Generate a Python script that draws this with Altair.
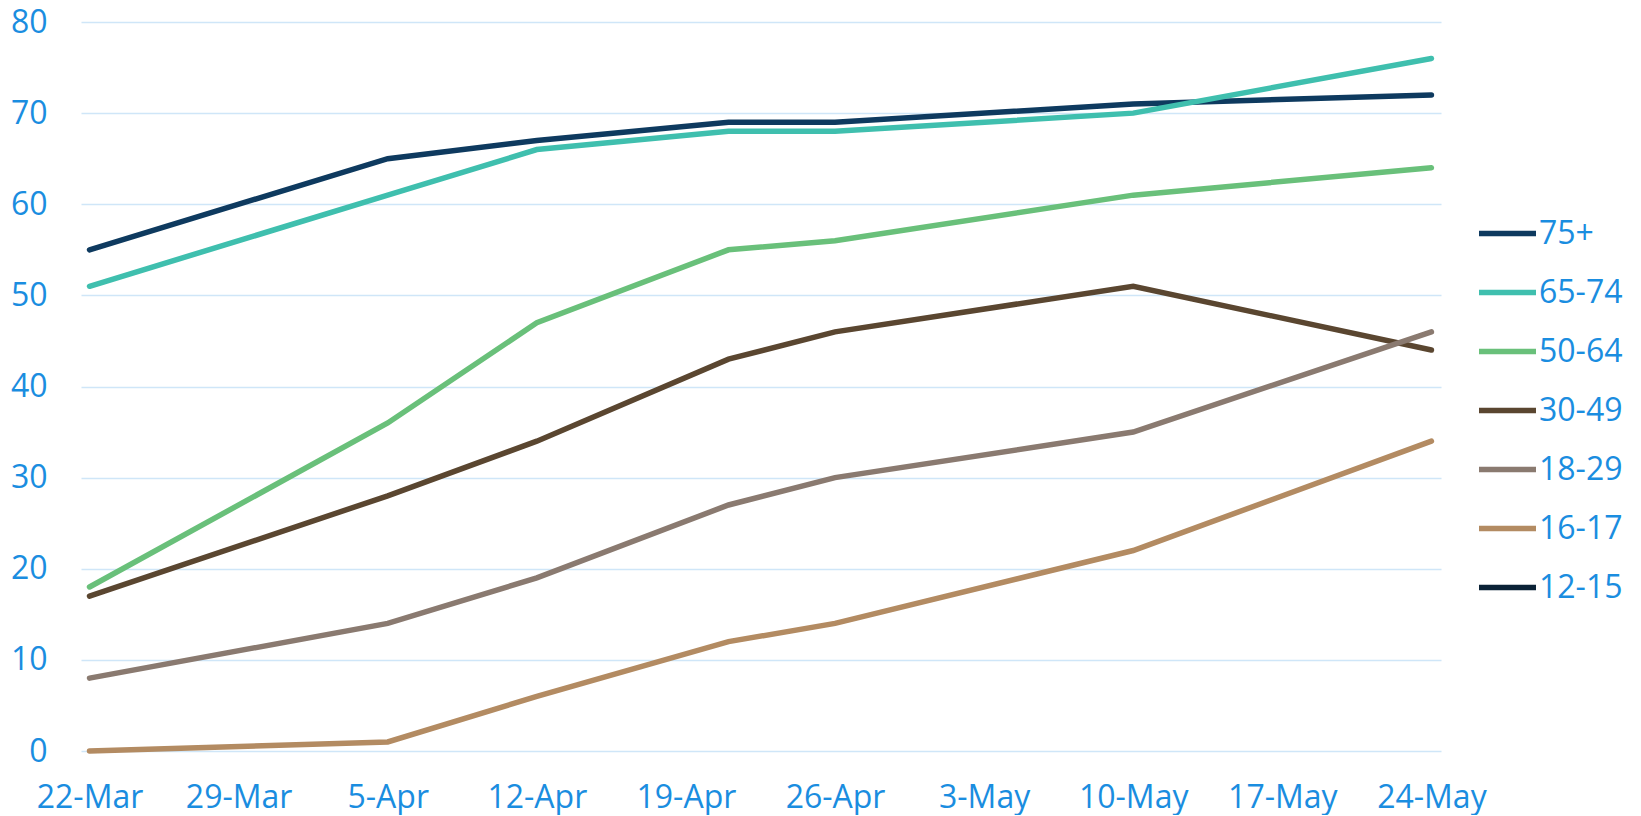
import altair as alt
import pandas as pd

# Days since 22-Mar for each observation
obs_days = [0, 14, 21, 30, 35, 49, 63]

series_names = ["75+", "65-74", "50-64", "30-49", "18-29", "16-17", "12-15"]
series_colors = ["#0e3a5f", "#3fbfae", "#69c07a", "#5a4630", "#8a7a70", "#b38b62", "#0b2236"]

v_75 = [55, 65, 67, 69, 69, 71, 72]
v_65_74 = [51, 61, 66, 68, 68, 70, 76]
v_50_64 = [18, 36, 47, 55, 56, 61, 64]
v_30_49 = [17, 28, 34, 43, 46, 51, 44]
v_18_29 = [8, 14, 19, 27, 30, 35, 46]
v_16_17 = [0, 1, 6, 12, 14, 22, 34]

tick_days = [0, 7, 14, 21, 28, 35, 42, 49, 56, 63]
tick_labels = ["22-Mar", "29-Mar", "5-Apr", "12-Apr", "19-Apr", "26-Apr",
               "3-May", "10-May", "17-May", "24-May"]

rows = []
for name, vals in [("75+", v_75), ("65-74", v_65_74), ("50-64", v_50_64),
                   ("30-49", v_30_49), ("18-29", v_18_29), ("16-17", v_16_17)]:
    for i, (d, v) in enumerate(zip(obs_days, vals)):
        rows.append({"series": name, "day": d, "value": v, "order": i})
df = pd.DataFrame(rows)

BLUE = "#1a8de0"
FONT = "Open Sans"
FS = 32
label_js = "[" + ",".join("'" + t + "'" for t in tick_labels) + "]"

chart = alt.Chart(df).mark_line(strokeWidth=5.5, strokeCap="round").encode(
    x=alt.X("day:Q",
            scale=alt.Scale(domain=[-0.4, 63.45], nice=False, zero=False),
            axis=alt.Axis(values=tick_days, labelExpr=label_js + "[round(datum.value/7)]",
                          title=None, grid=False, domain=False, ticks=False,
                          labelFontSize=FS, labelColor=BLUE, labelFont=FONT,
                          labelPadding=31, labelOverlap=False, labelFlush=False)),
    y=alt.Y("value:Q",
            scale=alt.Scale(domain=[0, 80], nice=False),
            axis=alt.Axis(values=list(range(0, 81, 10)), title=None, domain=False, ticks=False,
                          labelFontSize=FS, labelColor=BLUE, labelFont=FONT, labelPadding=34,
                          gridColor="#cfe6f8", gridWidth=1.5)),
    color=alt.Color("series:N",
                    scale=alt.Scale(domain=series_names, range=series_colors),
                    legend=alt.Legend(orient="none", legendX=1395, legendY=180, title=None,
                                      labelFontSize=FS, labelColor=BLUE, labelFont=FONT,
                                      symbolType="stroke", symbolSize=3249, symbolStrokeWidth=5.5,
                                      rowPadding=11, labelOffset=0, padding=0)),
    order=alt.Order("order:Q"),
).properties(
    width=1360, height=729,
    autosize=alt.AutoSizeParams(type="none"),
    padding={"left": 73, "top": 14, "right": 192, "bottom": 64},
).configure_view(stroke=None)

chart.save("out.html", embed_options={"renderer": "svg", "actions": False})
